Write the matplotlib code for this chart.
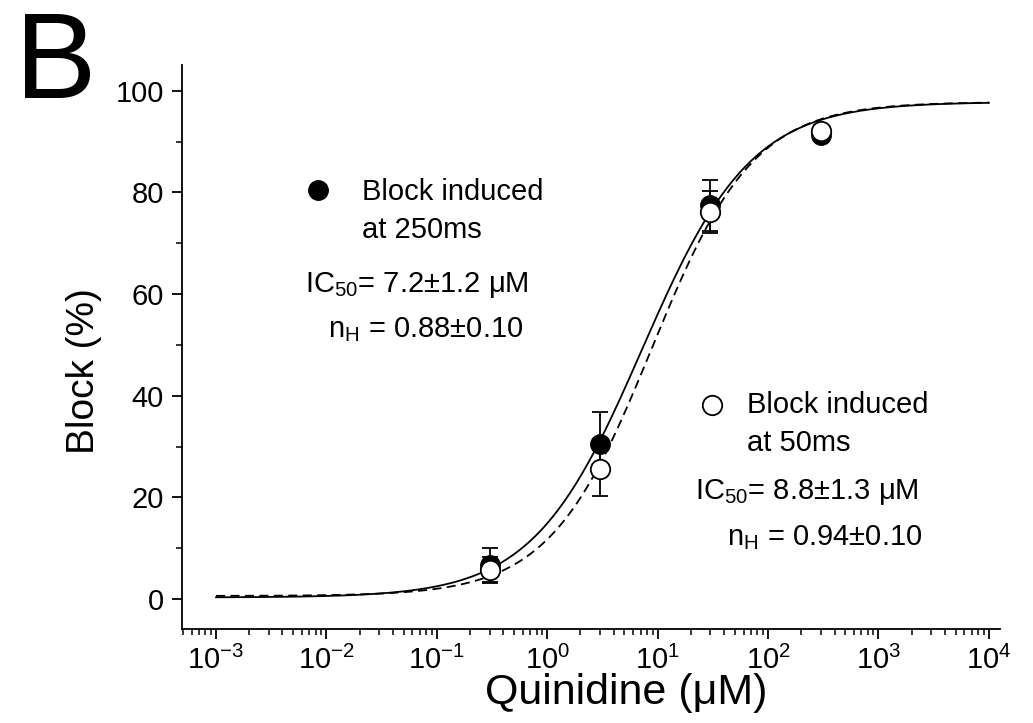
import numpy as np
import matplotlib
matplotlib.use("Agg")
from matplotlib import pyplot as plt
from matplotlib.ticker import LogLocator, MultipleLocator, NullFormatter

plt.rcParams["font.family"] = ["Liberation Sans", "DejaVu Sans"]
plt.rcParams["mathtext.fontset"] = "custom"
plt.rcParams["mathtext.rm"] = "Liberation Sans"
plt.rcParams["mathtext.it"] = "Liberation Sans:italic"
plt.rcParams["mathtext.bf"] = "Liberation Sans:bold"

# measured points (concentration in uM, block in %)
conc = [0.3, 3, 30, 300]
block_250 = [6.7, 30.5, 77.5, 91.3]
err_250 = [3.3, 6.3, 5.0, 1.0]
block_50 = [5.7, 25.6, 76.1, 92.0]
err_50 = [2.6, 5.3, 4.1, 1.2]

# Hill fit parameters shown on the chart
ic50_250, nh_250 = 7.2, 0.88
ic50_50, nh_50 = 8.8, 0.94
top_250, bottom_250 = 97.8, 0.3
top_50, bottom_50 = 97.8, 0.6

x_fit = np.logspace(-3, 4, 400)
x_decades = [-3, -2, -1, 0, 1, 2, 3, 4]

PM = "\u00b1"
MU = "\u03bc"


def hill(x, ic50, nh, top, bottom):
    """Hill equation for the fitted curves."""
    return bottom + (top - bottom) / (1 + (ic50 / x) ** nh)


fig = plt.figure(figsize=(10.33, 7.23), dpi=100)
ax = fig.add_axes([0.1762, 0.130, 0.968 - 0.1762, 0.910 - 0.130])

#Fitted curves
ax.plot(x_fit, hill(x_fit, ic50_250, nh_250, top_250, bottom_250), "k-", lw=1.3)
ax.plot(x_fit, hill(x_fit, ic50_50, nh_50, top_50, bottom_50), color="k",
        lw=1.3, linestyle=(0, (5, 3)))

#Data points with error bars
ax.errorbar(conc, block_250, yerr=err_250, fmt="o", color="k", mfc="k", mec="k",
            ms=14, capsize=6, elinewidth=1.3, capthick=1.3, zorder=3)
ax.errorbar(conc, block_50, yerr=err_50, fmt="o", color="k", mfc="white", mec="k",
            ms=14, mew=1.3, capsize=6, elinewidth=1.3, capthick=1.3, zorder=4)

ax.set_xscale("log")
ax.set_xlim(10 ** -3.308, 10 ** 4.1)
ax.set_ylim(-5.9, 105.06)
ax.set_xticks([10.0 ** d for d in x_decades])
ax.set_xticklabels(["$10^{%d}$" % d for d in x_decades])
ax.xaxis.set_minor_locator(LogLocator(base=10, subs=np.arange(2, 10), numticks=20))
ax.xaxis.set_minor_formatter(NullFormatter())
ax.yaxis.set_major_locator(MultipleLocator(20))
ax.yaxis.set_minor_locator(MultipleLocator(10))

for side in ["top", "right"]:
    ax.spines[side].set_visible(False)
for side in ["left", "bottom"]:
    ax.spines[side].set_linewidth(1.3)
ax.tick_params(which="major", direction="out", length=7, width=1.3,
               labelsize=21, pad=6)
ax.tick_params(axis="x", which="major", pad=5)
ax.tick_params(which="minor", direction="out", length=4, width=1.1)

ax.set_xlabel("Quinidine (" + MU + "M)", fontsize=31, labelpad=-1)
ax.set_ylabel("Block (%)", fontsize=28, labelpad=10)
ax.xaxis.label.set_x((626 - 182) / (1000 - 182))
ax.yaxis.label.set_y((629 - 371) / (629 - 65))

#Panel letter
fig.text(56 / 1033, 1 - 98 / 723, "B", fontsize=88, ha="center", va="baseline")

#Left annotation (250 ms)
fs = 21
ax.plot([318 / 1033], [1 - 190 / 723], "o", color="k", ms=14,
        transform=fig.transFigure, clip_on=False)
fig.text(362 / 1033, 1 - 192 / 723, "Block induced", fontsize=fs, va="center")
fig.text(362 / 1033, 1 - 230 / 723, "at 250ms", fontsize=fs, va="center")
fig.text(305 / 1033, 1 - 285 / 723, "IC$_{50}$= 7.2" + PM + "1.2 " + MU + "M",
         fontsize=fs, va="center")
fig.text(328 / 1033, 1 - 330 / 723, r"n$_{\mathrm{H}}$ = 0.88" + PM + "0.10",
         fontsize=fs, va="center")

#Right annotation (50 ms)
ax.plot([712 / 1033], [1 - 405 / 723], "o", color="k", mfc="white", ms=14,
        mew=1.3, transform=fig.transFigure, clip_on=False)
fig.text(747 / 1033, 1 - 405 / 723, "Block induced", fontsize=fs, va="center")
fig.text(747 / 1033, 1 - 443 / 723, "at 50ms", fontsize=fs, va="center")
fig.text(695 / 1033, 1 - 492 / 723, "IC$_{50}$= 8.8" + PM + "1.3 " + MU + "M",
         fontsize=fs, va="center")
fig.text(727 / 1033, 1 - 538 / 723, r"n$_{\mathrm{H}}$ = 0.94" + PM + "0.10",
         fontsize=fs, va="center")

fig.savefig("out.png", dpi=100)
